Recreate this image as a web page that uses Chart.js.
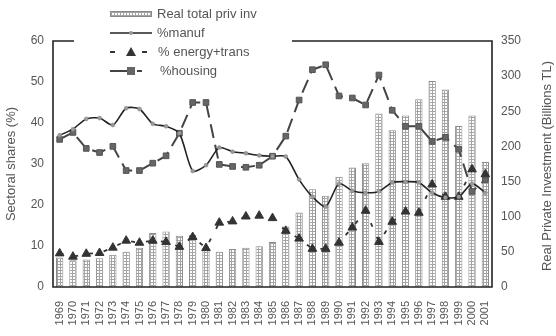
<!DOCTYPE html>
<html>
<head>
<meta charset="utf-8">
<script src="https://cdn.jsdelivr.net/npm/chart.js@4"></script>
<style>
  html, body { margin: 0; padding: 0; background: #fff; }
  #wrap { width: 556px; height: 336px; }
</style>
</head>
<body>
<div id="wrap"><canvas id="chart" width="556" height="336"></canvas></div>
<script>
// ── Data ──────────────────────────────────────────────
const YEARS = ['1969','1970','1971','1972','1973','1974','1975','1976','1977','1978','1979',
  '1980','1981','1982','1983','1984','1985','1986','1987','1988','1989','1990',
  '1991','1992','1993','1994','1995','1996','1997','1998','1999','2000','2001'];

// Real total private investment (billions TL, right axis)
const PRIV_INV = [42, 38, 39, 41, 46, 50, 56, 77, 79, 73, 74,
  53, 50, 54, 56, 58, 64, 86, 106, 139, 130, 157,
  170, 176, 247, 223, 244, 267, 293, 281, 229, 244, 178];

// Sectoral shares (%, left axis)
const MANUF = [37, 38.5, 41, 41.2, 39.5, 43.6, 43.4, 39.8, 39.2, 37.5, 28.3,
  29.7, 34, 33, 32.6, 32.1, 31.9, 31.8, 26.2, 22, 19.6, 25.2,
  23.5, 23, 23.3, 25.5, 25.7, 25.5, 23, 21.8, 22, 25.2, 23];

const ENERGY = [8.2, 7.4, 8.1, 8.3, 9.6, 11.3, 10.8, 11.3, 11, 9.8, 12.2,
  9.5, 15.7, 16, 17.2, 17.4, 16.8, 13.7, 11.8, 9.3, 9.3, 10.8,
  14.5, 18.6, 11, 15.9, 18.4, 18.1, 25, 22, 22, 28.7, 27.5];

const HOUSING = [36, 37.7, 33.8, 32.8, 34.3, 28.4, 28.4, 30.2, 32, 37.5, 45,
  45, 29.9, 29.4, 29.2, 29.7, 31.9, 36.8, 45.6, 53, 54.2, 46.6,
  46.1, 44.4, 51.7, 43.1, 39.2, 39.2, 35.5, 36.5, 33.6, 23.3, 26.2];

const LEFT_TICKS  = { min: 0, max: 60,  step: 10 };
const RIGHT_TICKS = { min: 0, max: 350, step: 50 };

const LEGEND_LABELS = ['Real total priv inv', '%manuf', '% energy+trans', '%housing'];

// ── Styles ────────────────────────────────────────────
const FONT = "'Liberation Sans', Arial, sans-serif";
const TXT  = '#555';
const INK  = '#222';

function hatch() {
  const c = document.createElement('canvas');
  c.width = 3; c.height = 3;
  const g = c.getContext('2d');
  g.fillStyle = '#a4a4a4'; g.fillRect(0, 0, 3, 3);
  g.fillStyle = '#fff';    g.fillRect(1, 1, 2, 2);
  return g.createPattern(c, 'repeat');
}
const barFill = hatch();

// ── Plugins ───────────────────────────────────────────
// plot frame, with the top edge broken where the legend sits
const framePlugin = {
  id: 'frame',
  afterDatasetsDraw(chart) {
    const { ctx, chartArea: a } = chart;
    ctx.save();
    ctx.strokeStyle = INK;
    ctx.lineWidth = 1.6;
    ctx.beginPath();
    ctx.moveTo(a.left + 21, a.top); ctx.lineTo(a.left, a.top);
    ctx.lineTo(a.left, a.bottom); ctx.lineTo(a.right, a.bottom);
    ctx.lineTo(a.right, a.top); ctx.lineTo(292, a.top);
    ctx.stroke();
    ctx.restore();
  }
};

// right-axis title reads bottom-to-top like the left one
const rightTitlePlugin = {
  id: 'rightTitle',
  afterDraw(chart) {
    const { ctx, chartArea: a } = chart;
    ctx.save();
    ctx.translate(547, (a.top + a.bottom) / 2 + 2);
    ctx.rotate(-Math.PI / 2);
    ctx.font = `13px ${FONT}`;
    ctx.fillStyle = TXT;
    ctx.textAlign = 'center';
    ctx.textBaseline = 'middle';
    ctx.fillText('Real Private Investment (Billions TL)', 0, 0);
    ctx.restore();
  }
};

const legendPlugin = {
  id: 'boxLegend',
  afterDraw(chart) {
    const ctx = chart.ctx;
    const x0 = 110, x1 = 152, xm = 131, tx = 157;
    const rows = [14, 33, 52, 71];
    ctx.save();

    // bars
    ctx.fillStyle = barFill;
    ctx.fillRect(x0, rows[0] - 3, x1 - x0, 6);
    ctx.strokeStyle = '#8a8a8a'; ctx.lineWidth = 1;
    ctx.strokeRect(x0 + 0.5, rows[0] - 2.5, x1 - x0 - 1, 5);

    // manuf
    ctx.strokeStyle = INK; ctx.lineWidth = 1.6;
    ctx.beginPath(); ctx.moveTo(x0, rows[1]); ctx.lineTo(x1, rows[1]); ctx.stroke();
    ctx.fillStyle = '#999';
    ctx.beginPath(); ctx.arc(xm, rows[1], 2, 0, Math.PI * 2); ctx.fill();

    // energy
    ctx.strokeStyle = '#333'; ctx.lineWidth = 2;
    ctx.beginPath();
    ctx.moveTo(x0, rows[2]); ctx.lineTo(x0 + 5, rows[2]);
    ctx.moveTo(x1 - 10, rows[2]); ctx.lineTo(x1 - 5, rows[2]);
    ctx.stroke();
    ctx.fillStyle = '#333';
    ctx.beginPath();
    ctx.moveTo(xm, rows[2] - 5); ctx.lineTo(xm + 5, rows[2] + 4); ctx.lineTo(xm - 5, rows[2] + 4);
    ctx.closePath(); ctx.fill();

    // housing
    ctx.strokeStyle = '#444';
    ctx.beginPath();
    ctx.moveTo(x0, rows[3]); ctx.lineTo(x0 + 18, rows[3]);
    ctx.moveTo(x1 - 15, rows[3]); ctx.lineTo(x1 - 10, rows[3]);
    ctx.stroke();
    ctx.fillStyle = '#666';
    ctx.fillRect(xm - 4, rows[3] - 4, 8, 8);

    // labels
    ctx.font = `13px ${FONT}`;
    ctx.fillStyle = TXT;
    ctx.textBaseline = 'middle';
    ctx.fillText(LEGEND_LABELS[0], tx, rows[0]);
    ctx.fillText(LEGEND_LABELS[1], tx, rows[1]);
    ctx.fillText(LEGEND_LABELS[2], tx + 1, rows[2]);
    ctx.fillText(LEGEND_LABELS[3], tx + 3, rows[3]);
    ctx.restore();
  }
};

// ── Chart ─────────────────────────────────────────────
Chart.defaults.font.family = FONT;
Chart.defaults.color = TXT;

const lineBase = { type: 'line', yAxisID: 'y', fill: false, borderJoinStyle: 'round' };

new Chart(document.getElementById('chart'), {
  type: 'bar',
  data: {
    labels: YEARS,
    datasets: [
      {
        ...lineBase,
        label: '%manuf',
        data: MANUF,
        borderColor: INK, borderWidth: 1.6, tension: 0.25,
        pointStyle: 'circle', pointRadius: 2,
        pointBackgroundColor: '#999', pointBorderColor: '#888', pointBorderWidth: 0.5,
        order: 1,
      },
      {
        ...lineBase,
        label: '% energy+trans',
        data: ENERGY,
        borderColor: '#333', borderWidth: 1.8, borderDash: [4, 11], tension: 0,
        pointStyle: 'triangle', pointRadius: 5,
        pointBackgroundColor: '#333', pointBorderColor: '#333', pointBorderWidth: 1,
        order: 2,
      },
      {
        ...lineBase,
        label: '%housing',
        data: HOUSING,
        borderColor: '#444', borderWidth: 2, borderDash: [14, 7], tension: 0,
        pointStyle: 'rect', pointRadius: 4,
        pointBackgroundColor: '#666', pointBorderColor: '#555', pointBorderWidth: 1,
        order: 3,
      },
      {
        label: 'Real total priv inv',
        data: PRIV_INV,
        yAxisID: 'y1',
        backgroundColor: barFill,
        borderColor: '#8a8a8a', borderWidth: 1,
        barPercentage: 0.55, categoryPercentage: 1,
        order: 10,
      },
    ],
  },
  options: {
    responsive: false,
    animation: false,
    layout: { padding: { top: 41, left: 0, right: 0, bottom: 0 } },
    plugins: { legend: { display: false }, tooltip: { enabled: false } },
    scales: {
      x: {
        grid: { display: false, drawTicks: false },
        border: { display: false },
        ticks: { font: { size: 11 }, minRotation: 90, maxRotation: 90, autoSkip: false, padding: 14 },
        afterFit: s => { s.height = 49; },
      },
      y: {
        position: 'left',
        min: LEFT_TICKS.min, max: LEFT_TICKS.max,
        grid: { display: false, drawTicks: false },
        border: { display: false },
        ticks: { stepSize: LEFT_TICKS.step, font: { size: 12 }, padding: 9 },
        title: { display: true, text: 'Sectoral shares (%)', font: { size: 13 }, padding: { top: 4, bottom: 4 } },
        afterFit: s => { s.width = 53; },
      },
      y1: {
        position: 'right',
        min: RIGHT_TICKS.min, max: RIGHT_TICKS.max,
        grid: { display: false, drawTicks: false },
        border: { display: false },
        ticks: { stepSize: RIGHT_TICKS.step, font: { size: 12 }, padding: 9 },
        afterFit: s => { s.width = 64; },
      },
    },
  },
  plugins: [framePlugin, rightTitlePlugin, legendPlugin],
});
</script>
</body>
</html>
